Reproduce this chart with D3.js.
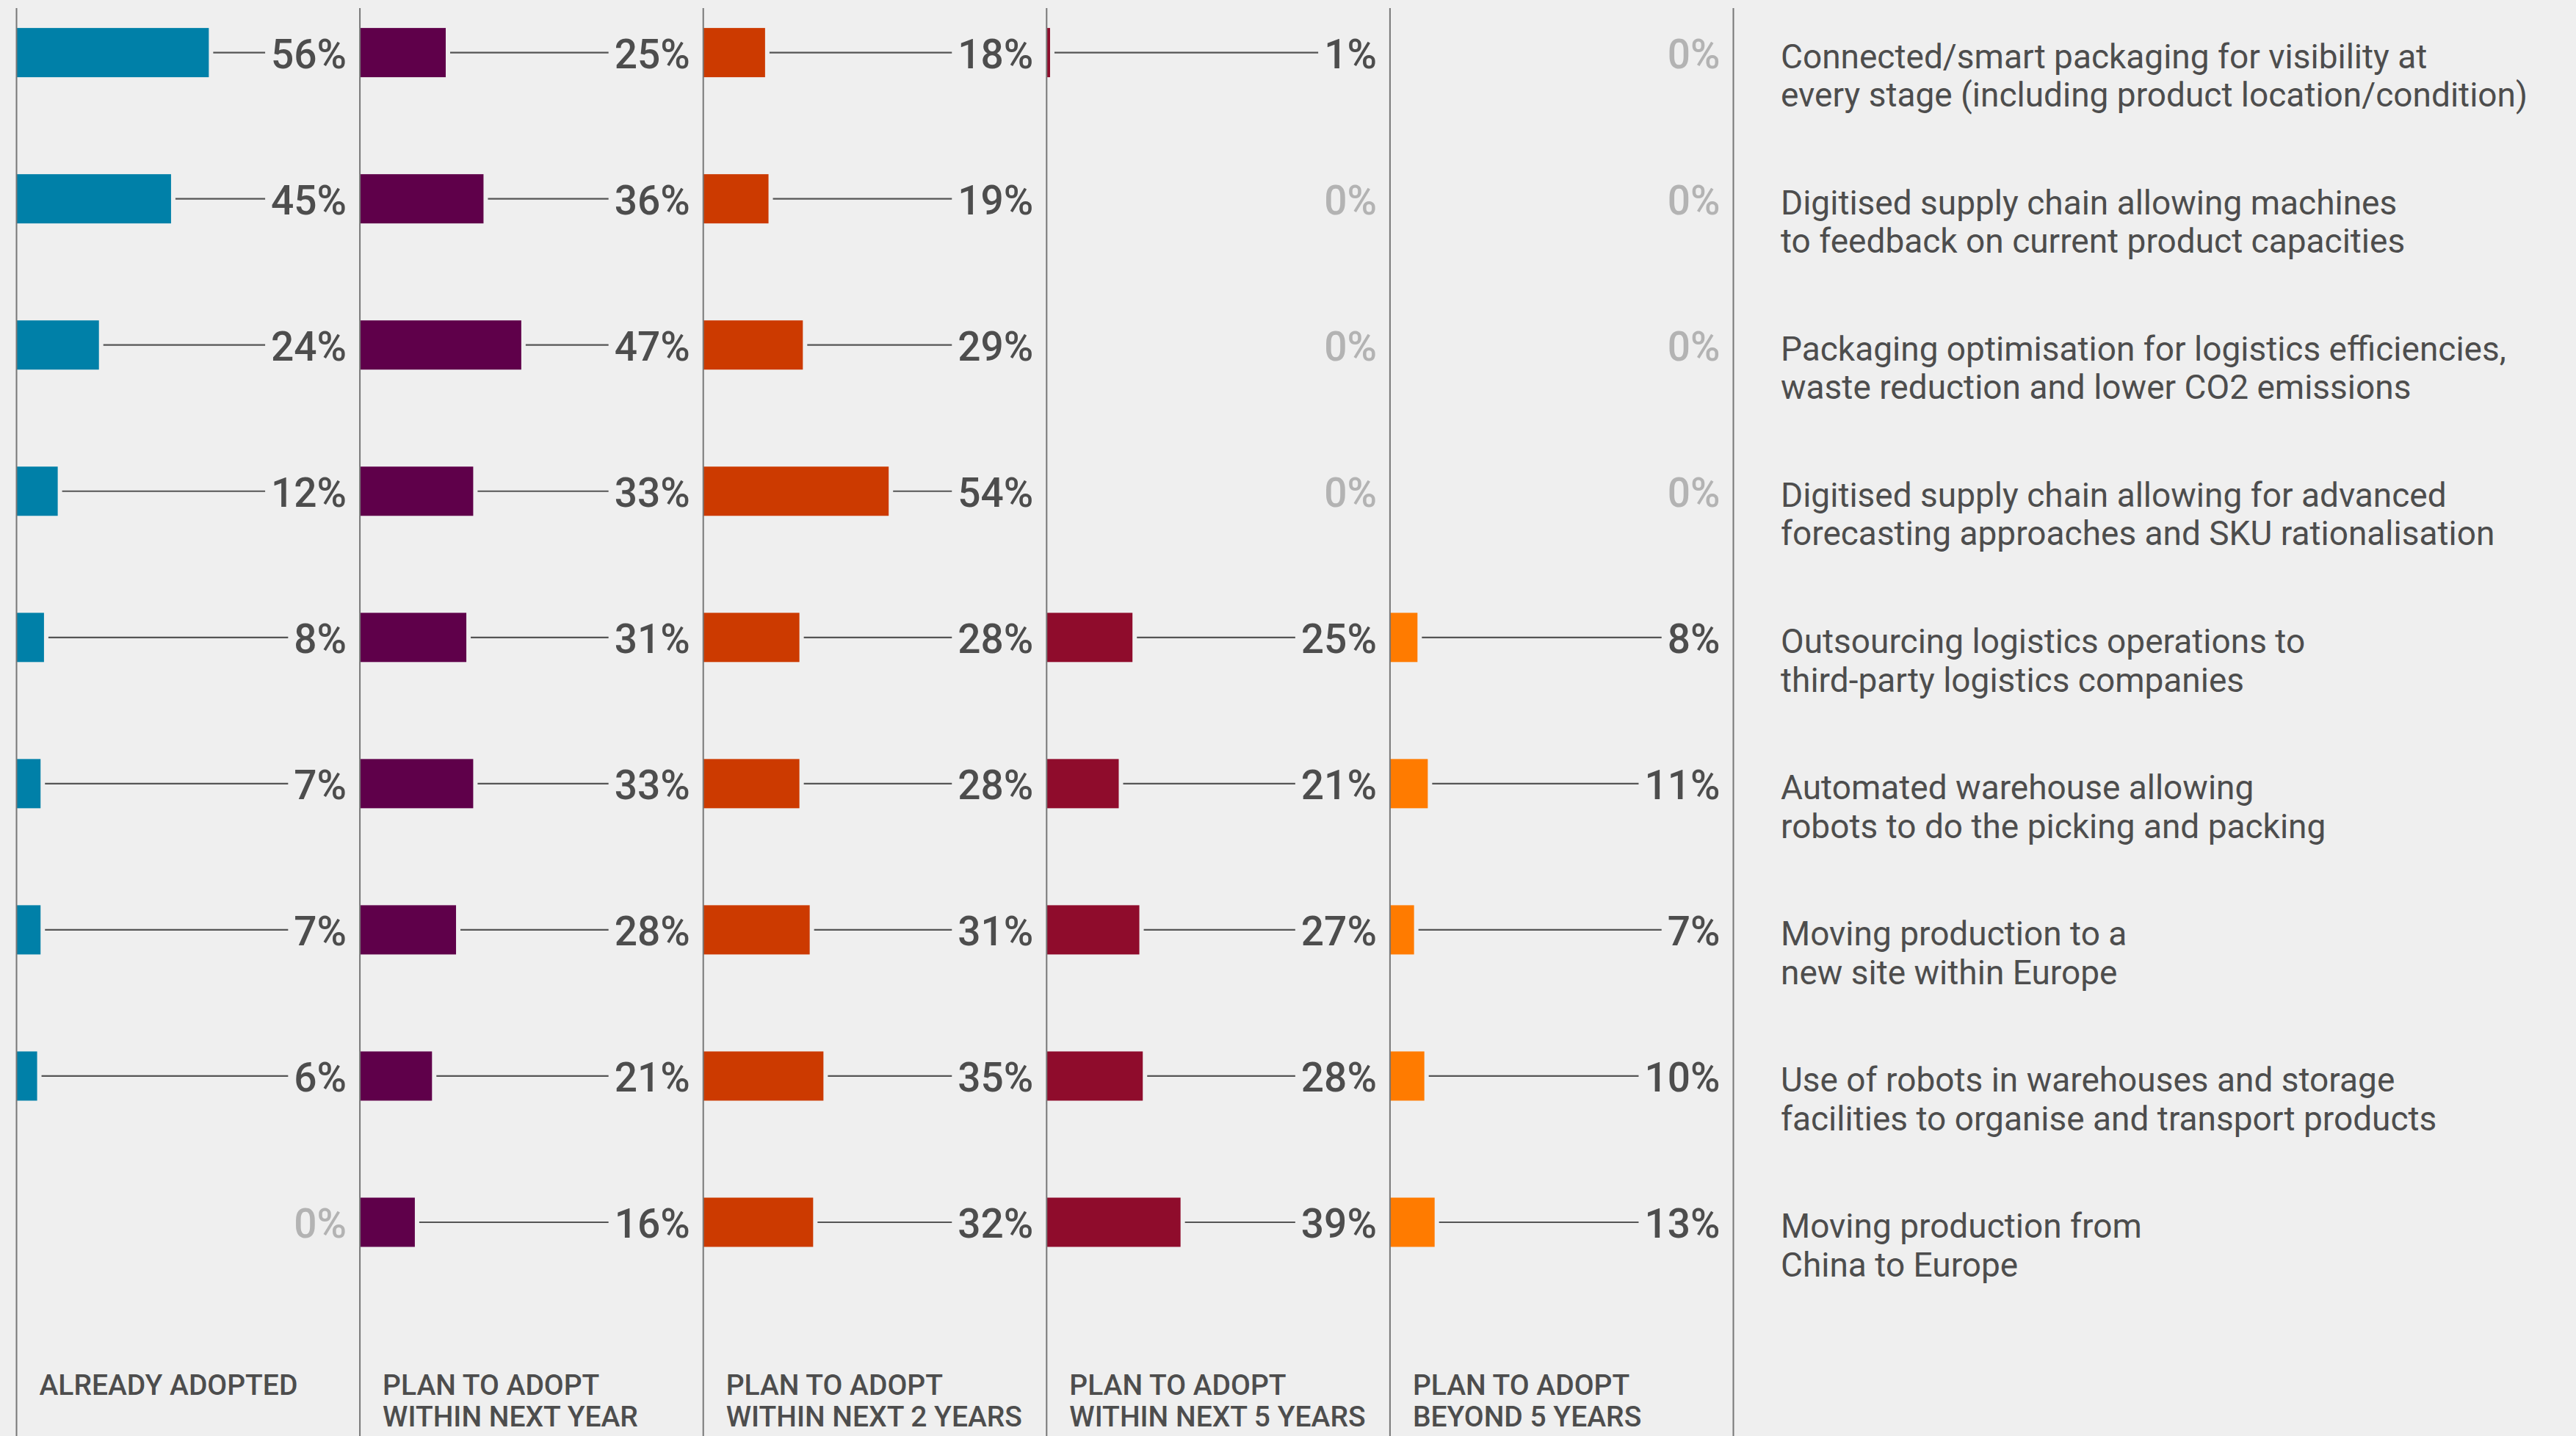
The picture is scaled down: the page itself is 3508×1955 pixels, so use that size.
<!DOCTYPE html>
<html>
<head>
<meta charset="utf-8">
<script src="https://cdn.jsdelivr.net/npm/d3@7"></script>
<style>
  html, body { margin: 0; padding: 0; background: #efefef; }
  svg { display: block; }
  text { font-family: Roboto, "Open Sans", sans-serif; }
</style>
</head>
<body>
<svg id="chart" width="3508" height="1955"></svg>
<script>
// Adoption stages (columns) and their two-line headings
const stages = ["already", "nextYear", "next2Years", "next5Years", "beyond5Years"];
const stageHeadings = [
  ["ALREADY ADOPTED"],
  ["PLAN TO ADOPT", "WITHIN NEXT YEAR"],
  ["PLAN TO ADOPT", "WITHIN NEXT 2 YEARS"],
  ["PLAN TO ADOPT", "WITHIN NEXT 5 YEARS"],
  ["PLAN TO ADOPT", "BEYOND 5 YEARS"]
];
const stageColors = ["#0080a8", "#5f004a", "#cc3a00", "#8f0c2c", "#ff7b00"];

// Supply-chain initiatives (rows), each wrapped onto two lines
const categories = [
  ["Connected/smart packaging for visibility at", "every stage (including product location/condition)"],
  ["Digitised supply chain allowing machines", "to feedback on current product capacities"],
  ["Packaging optimisation for logistics efficiencies,", "waste reduction and lower CO2 emissions"],
  ["Digitised supply chain allowing for advanced", "forecasting approaches and SKU rationalisation"],
  ["Outsourcing logistics operations to", "third-party logistics companies"],
  ["Automated warehouse allowing", "robots to do the picking and packing"],
  ["Moving production to a", "new site within Europe"],
  ["Use of robots in warehouses and storage", "facilities to organise and transport products"],
  ["Moving production from", "China to Europe"]
];

// Share of respondents (%) per stage, in row order
const alreadyAdopted   = [56, 45, 24, 12, 8, 7, 7, 6, 0];
const withinNextYear   = [25, 36, 47, 33, 31, 33, 28, 21, 16];
const withinNext2Years = [18, 19, 29, 54, 28, 28, 31, 35, 32];
const withinNext5Years = [1, 0, 0, 0, 25, 21, 27, 28, 39];
const beyond5Years     = [0, 0, 0, 0, 8, 11, 7, 10, 13];

const seriesValues = [alreadyAdopted, withinNextYear, withinNext2Years, withinNext5Years, beyond5Years];

// ---- layout ----
const W = 3508, H = 1955;
const svg = d3.select("#chart");

const rowIds = categories.map((c, i) => i);
const colLeft = 22.5, colStep = 467.6;

const x0 = d3.scaleBand()
  .domain(stages)
  .range([colLeft, colLeft + colStep * stages.length])
  .padding(0);

const xVal = d3.scaleLinear().domain([0, 100]).range([0, x0.bandwidth()]);

const y = d3.scalePoint()
  .domain(rowIds)
  .range([71.6, 71.6 + 199.05 * (categories.length - 1)]);

const barH = 67;
const textColor = "#4d4d4d";
const zeroColor = "#b3b3b3";

// one record per (stage, row)
const cells = [];
stages.forEach((s, si) => {
  seriesValues[si].forEach((v, ri) => cells.push({ stage: s, si, row: ri, value: v }));
});

const gBars = svg.append("g");
const gLabels = svg.append("g");
const gLeaders = svg.append("g");

// bars
gBars.selectAll("rect")
  .data(cells.filter(d => d.value > 0))
  .join("rect")
  .attr("x", d => x0(d.stage))
  .attr("y", d => y(d.row) - barH / 2)
  .attr("width", d => xVal(d.value))
  .attr("height", barH)
  .attr("fill", d => stageColors[d.si]);

// value labels, right-aligned at the column edge
const labels = gLabels.selectAll("text")
  .data(cells)
  .join("text")
  .attr("x", d => x0(d.stage) + x0.bandwidth() - 18)
  .attr("y", d => y(d.row) + 21)
  .attr("text-anchor", "end")
  .attr("font-size", 55)
  .attr("font-weight", 500)
  .attr("fill", d => d.value > 0 ? textColor : zeroColor)
  .text(d => d.value + "%");

// leader lines from bar end to label
labels.each(function (d) {
  d.labelWidth = this.getComputedTextLength();
});
gLeaders.selectAll("line")
  .data(cells.filter(d => d.value > 0))
  .join("line")
  .attr("x1", d => x0(d.stage) + xVal(d.value) + 6)
  .attr("x2", d => x0(d.stage) + x0.bandwidth() - 18 - d.labelWidth - 8)
  .attr("y1", d => y(d.row))
  .attr("y2", d => y(d.row))
  .attr("stroke", "#555")
  .attr("stroke-width", 2.2);

// column dividers
const dividerXs = stages.map(s => x0(s)).concat([x0.range()[1]]);
svg.append("g").selectAll("line")
  .data(dividerXs)
  .join("line")
  .attr("x1", d => d).attr("x2", d => d)
  .attr("y1", 11).attr("y2", H)
  .attr("stroke", "#777")
  .attr("stroke-width", 2);

// column headings at the bottom
const heads = svg.append("g").selectAll("text")
  .data(stages.map((s, i) => ({ s, lines: stageHeadings[i] })))
  .join("text")
  .attr("x", d => x0(d.s) + 31)
  .attr("y", 1899)
  .attr("font-size", 39)
  .attr("font-weight", 500)
  .attr("fill", textColor);
heads.selectAll("tspan")
  .data(d => d.lines.map(l => ({ l, x: x0(d.s) + 31 })))
  .join("tspan")
  .attr("x", d => d.x)
  .attr("dy", (d, i) => i === 0 ? 0 : 43)
  .text(d => d.l);

// initiative labels to the right
const catX = x0.range()[1] + 64.5;
const cats = svg.append("g").selectAll("text")
  .data(rowIds)
  .join("text")
  .attr("x", catX)
  .attr("y", d => y(d) + 21)
  .attr("font-size", 46)
  .attr("fill", textColor);
cats.selectAll("tspan")
  .data(d => categories[d])
  .join("tspan")
  .attr("x", catX)
  .attr("dy", (d, i) => i === 0 ? 0 : 52.7)
  .text(d => d);
</script>
</body>
</html>
